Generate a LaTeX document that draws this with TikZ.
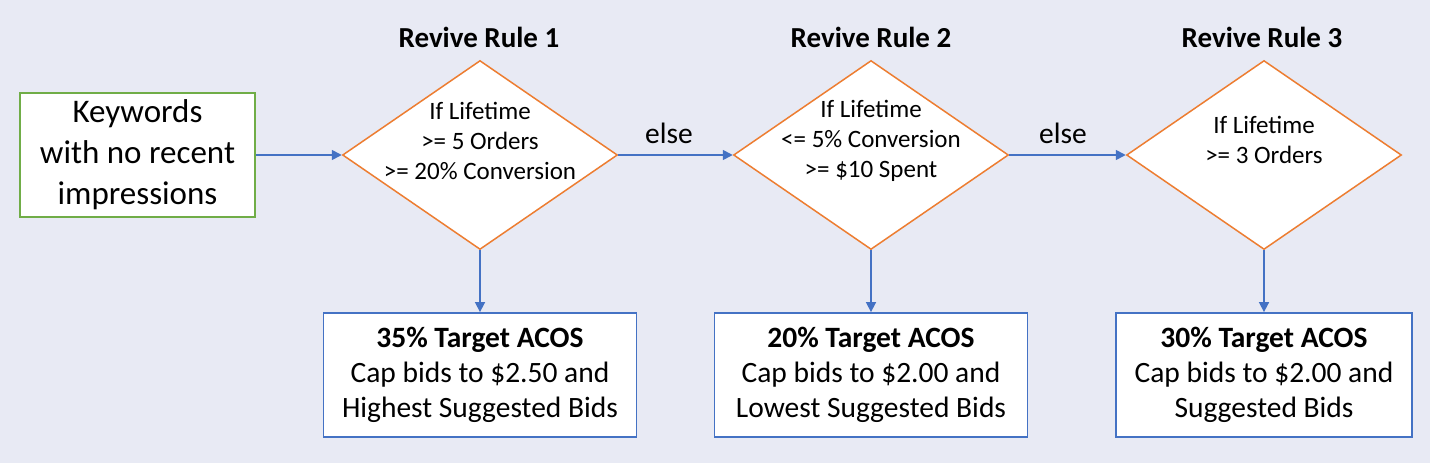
\documentclass[tikz,border=0pt]{standalone}
\usepackage{fontspec}
\setmainfont{Carlito}
\usetikzlibrary{arrows.meta,shapes.geometric}
\definecolor{bgc}{HTML}{E8EAF4}
\definecolor{grn}{HTML}{70AD47}
\definecolor{org}{HTML}{ED7D31}
\definecolor{blu}{HTML}{4472C4}
\begin{document}
\begin{tikzpicture}[x=1pt,y=-1pt,
  startbox/.style={draw=grn,line width=1.8pt,fill=white,minimum width=235pt,minimum height=124pt,inner sep=0pt,align=center,font=\fontsize{33}{41}\selectfont},
  dia/.style={draw=org,line width=1.5pt,fill=white,shape=diamond,minimum width=275pt,minimum height=189pt,inner sep=0pt},
  dtext/.style={align=center,font=\fontsize{25}{30}\selectfont,inner sep=0pt},
  resbox/.style={draw=blu,line width=1.8pt,fill=white,minimum height=124pt,inner sep=0pt,align=center,font=\fontsize{29.5}{35}\selectfont},
  ttl/.style={font=\bfseries\fontsize{29}{35}\selectfont,inner sep=0pt},
  elsel/.style={font=\fontsize{29.5}{35}\selectfont,inner sep=0pt},
  conn/.style={draw=blu,line width=1.6pt,-{Triangle[length=10pt,width=10pt]}}
]
\fill[bgc] (0,0) rectangle (1430,463);
\useasboundingbox (0,0) rectangle (1430,463);

\node[startbox] (kw) at (137.5,155) {Keywords\\with no recent\\impressions};

\node[dia] (d1) at (480,155) {};
\node[dia] (d2) at (871,155) {};
\node[dia] (d3) at (1264,155) {};

\node[dtext] (t1) at (480,141) {If Lifetime\\>= 5 Orders\\>= 20\% Conversion};
\node[dtext] (t2) at (871,141) {If Lifetime\\<= 5\% Conversion\\>= \$10 Spent};
\node[dtext] (t3) at (1264,140) {If Lifetime\\>= 3 Orders};

\node[ttl] (h1) at (479,37) {Revive Rule 1};
\node[ttl] (h2) at (871,37) {Revive Rule 2};
\node[ttl] (h3) at (1262,37) {Revive Rule 3};

\node[resbox,minimum width=313pt] (b1) at (480,375) {\textbf{35\% Target ACOS}\\Cap bids to \$2.50 and\\Highest Suggested Bids};
\node[resbox,minimum width=313pt] (b2) at (871,375) {\textbf{20\% Target ACOS}\\Cap bids to \$2.00 and\\Lowest Suggested Bids};
\node[resbox,minimum width=296pt] (b3) at (1264,375) {\textbf{30\% Target ACOS}\\Cap bids to \$2.00 and\\Suggested Bids};

\node[elsel] (e1) at (669,133) {else};
\node[elsel] (e2) at (1063,133) {else};

\draw[conn] (kw.east) -- (d1.west);
\draw[conn] (d1.east) -- (d2.west);
\draw[conn] (d2.east) -- (d3.west);
\draw[conn] (d1.south) -- (b1.north);
\draw[conn] (d2.south) -- (b2.north);
\draw[conn] (d3.south) -- (b3.north);
\end{tikzpicture}
\end{document}
